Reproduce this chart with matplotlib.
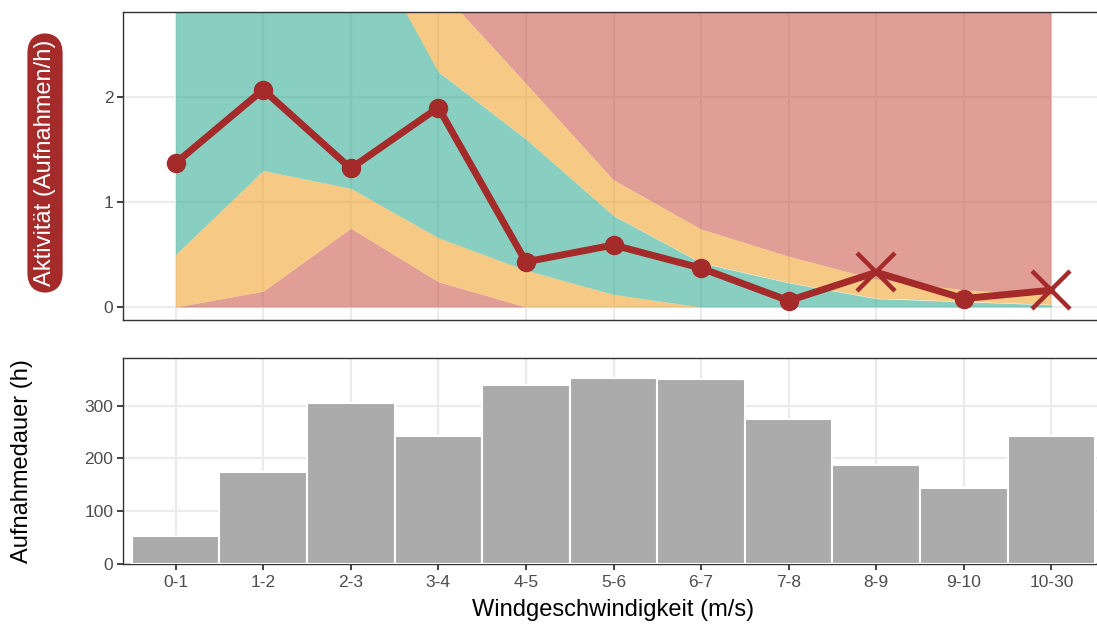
import numpy as np
import matplotlib.pyplot as plt

plt.rcParams['font.family'] = ['Liberation Sans', 'DejaVu Sans']

# categories (wind speed bins)
bins = ['0-1', '1-2', '2-3', '3-4', '4-5', '5-6', '6-7', '7-8', '8-9', '9-10', '10-30']

# observed activity (recordings per hour)
activity = [1.37, 2.07, 1.32, 1.90, 0.43, 0.59, 0.37, 0.06, 0.33, 0.08, 0.16]
# bins flagged with a cross instead of a dot
flagged = [False, False, False, False, False, False, False, False, True, False, True]

# quantile band boundaries of the expected activity
q05 = [0.00, 0.15, 0.75, 0.24, 0.00, 0.00, 0.00, 0.00, 0.00, 0.00, 0.00]
q25 = [0.50, 1.30, 1.13, 0.66, 0.35, 0.12, 0.00, 0.00, 0.00, 0.00, 0.00]
q75 = [4.50, 5.00, 3.76, 2.24, 1.60, 0.87, 0.42, 0.23, 0.08, 0.05, 0.02]
q95 = [6.00, 6.50, 5.00, 3.04, 2.13, 1.21, 0.74, 0.48, 0.26, 0.16, 0.11]

# recording duration (hours)
duration = [53, 174, 305, 243, 338, 353, 351, 274, 188, 144, 242]

line_col = '#A52A2A'
red = '#C84F40'
orange = '#F0A021'
green = '#27A88E'
grid_col = '#EBEBEB'
spine_col = '#333333'
text_col = '#4D4D4D'

x = np.arange(len(bins))

fig = plt.figure(figsize=(10.97, 6.28), dpi=100)
W, H = 1097, 628
left = 123 / W
width = (1104 - 123) / W
ax1 = fig.add_axes([left, 1 - 320 / H, width, 308 / H])
ax2 = fig.add_axes([left, 1 - 564 / H, width, 206 / H])

for ax in (ax1, ax2):
    ax.set_axisbelow(True)
    ax.grid(True, color=grid_col, linewidth=1.6)
    ax.set_xlim(-0.6, 10.6)
    ax.set_xticks(x)
    for s in ax.spines.values():
        s.set_color(spine_col)
        s.set_linewidth(1.0)
    ax.spines['right'].set_visible(False)
    ax.tick_params(axis='y', colors=spine_col, labelcolor=text_col, labelsize=12.5,
                   length=4, width=1.3, pad=3)

# top panel: bands + activity line
a = 0.55
top = np.full(len(x), 10.0)
ax1.fill_between(x, 0, q05, color=red, alpha=a, linewidth=0)
ax1.fill_between(x, q05, q25, color=orange, alpha=a, linewidth=0)
ax1.fill_between(x, q25, q75, color=green, alpha=a, linewidth=0)
ax1.fill_between(x, q75, q95, color=orange, alpha=a, linewidth=0)
ax1.fill_between(x, q95, top, color=red, alpha=a, linewidth=0)

ax1.plot(x, activity, color=line_col, linewidth=5, zorder=5, solid_capstyle='round')
act = np.array(activity)
flg = np.array(flagged)
ax1.plot(x[~flg], act[~flg], 'o', color=line_col, markersize=13, zorder=6)
ax1.plot(x[flg], act[flg], 'x', color=line_col, markersize=27, markeredgewidth=3.2, zorder=6)

ax1.set_ylim(-0.124, 2.81)
ax1.set_yticks([0, 1, 2])
ax1.tick_params(axis='x', length=0, labelbottom=False)

fig.text(45 / W, 1 - 163 / H, 'Aktivität (Aufnahmen/h)', rotation=90, ha='center', va='center',
         fontsize=17, color='white',
         bbox=dict(boxstyle='round,pad=0.28,rounding_size=0.85', fc=line_col, ec='none'))

# bottom panel: recording duration
ax2.bar(x, duration, width=1.0, color='#ABABAB', edgecolor='white', linewidth=1.5, zorder=3)
ax2.set_ylim(0, 390)
ax2.set_yticks([0, 100, 200, 300])
ax2.set_xticklabels(bins)
ax2.tick_params(axis='x', colors=spine_col, labelcolor=text_col, labelsize=12.5,
                length=4, width=1.3, pad=4)
ax2.set_ylabel('Aufnahmedauer (h)', fontsize=17)
ax2.yaxis.set_label_coords((22 - 123) / (1104 - 123), 0.5)
ax2.set_xlabel('Windgeschwindigkeit (m/s)', fontsize=17)
ax2.xaxis.set_label_coords((613 - 123) / (1104 - 123), -(610 - 564) / 206, )
ax2.xaxis.label.set_va('center')
ax2.yaxis.label.set_va('center')

fig.savefig('out.png', dpi=100)
